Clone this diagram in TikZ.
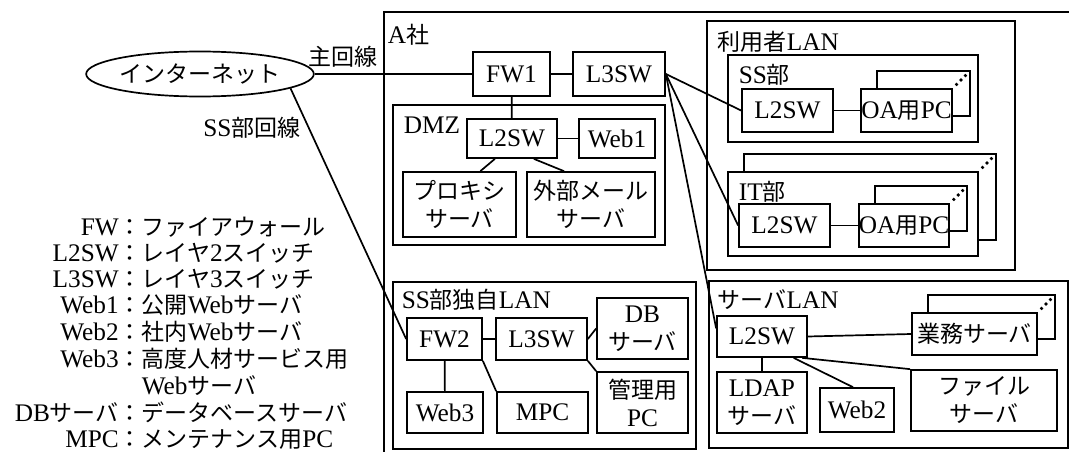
\documentclass[tikz,border=0pt]{standalone}
\usepackage{fontspec}
\setmainfont{Liberation Serif}[Scale=1.1]
\newfontfamily\jpfont{Noto Sans CJK JP}
\newcommand{\jp}[1]{{\jpfont #1}}
\usetikzlibrary{shapes.geometric,calc}
% stacked copy drawn behind a node, with dots
\newcommand{\backcopy}[1]{%
  \draw ([xshift=17pt]#1.north west) -- ([shift={(17pt,17pt)}]#1.north west)
    -- ([shift={(17pt,17pt)}]#1.north east) -- ([shift={(17pt,17pt)}]#1.south east)
    -- ([yshift=17pt]#1.south east);
  \foreach \f in {0.22,0.48,0.74}
    \fill ($(#1.north east)!\f!([shift={(17pt,17pt)}]#1.north east)$) circle (1.8pt);
}

\begin{document}
\begin{tikzpicture}[x=1pt, y=-1pt, line width=1.7pt,
    every node/.style={font=\fontsize{23}{28}\selectfont, inner sep=0pt},
    sz/.style 2 args={minimum width=#1, minimum height=#2}]
  \tikzstyle{dev_node}=[draw, rectangle, align=center]
  \tikzstyle{lan_frame}=[draw, rectangle]
  \tikzstyle{lan_label}=[anchor=west]
  \useasboundingbox (0,0) rectangle (1069,452);

  % frames
  \node [lan_frame, anchor=north west, sz={720}{470}] (asha) at (383,11) {};
  \node [lan_frame, sz={272}{140}] (dmz) at (529,175) {};
  \node [lan_frame, sz={303}{167}] (sslan) at (544.5,365.5) {};
  \node [lan_frame, sz={308}{249}] (userlan) at (861,145.5) {};
  \node [lan_frame, sz={250}{87}] (ssdept) at (853,98.5) {};
  \node [lan_frame, sz={250}{84}] (itdept) at (853,214) {};
  \node [lan_frame, sz={359}{167}] (srvlan) at (888.5,364.5) {};
  \backcopy{itdept}

  \node [lan_label] (asha_l) at (387,35) {A\jp{社}};
  \node [lan_label] (dmz_l) at (403,125) {DMZ};
  \node [lan_label] (sslan_l) at (401,300) {SS\jp{部独自}LAN};
  \node [lan_label] (userlan_l) at (717,42) {\jp{利用者}LAN};
  \node [lan_label] (ssdept_l) at (738,75) {SS\jp{部}};
  \node [lan_label] (itdept_l) at (738,192) {IT\jp{部}};
  \node [lan_label] (srvlan_l) at (717,300) {\jp{サーバ}LAN};

  % internet
  \node [draw, ellipse, sz={218}{45}] (inet) at (200,74) {\jp{インターネット}};
  \node (main_l) at (343,57) {\jp{主回線}};
  \node (ssline_l) at (252,128) {SS\jp{部回線}};

  % A-sha core and DMZ
  \node [dev_node, sz={77}{44}] (fw1) at (511.5,74) {FW1};
  \node [dev_node, sz={92}{44}] (l3sw1) at (619,74) {L3SW};
  \node [dev_node, sz={90}{39}] (l2sw1) at (512,138.5) {L2SW};
  \node [dev_node, sz={76}{39}] (web1) at (617,138.5) {Web1};
  \node [dev_node, sz={113}{65}] (proxy) at (459.5,204.5) {\jp{プロキシ}\\\jp{サーバ}};
  \node [dev_node, sz={128}{65}] (mail) at (591,204.5) {\jp{外部メール}\\\jp{サーバ}};

  % SS-bu own LAN
  \node [dev_node, sz={75}{42}] (fw2) at (444.5,339) {FW2};
  \node [dev_node, sz={91}{42}] (l3sw2) at (541.5,339) {L3SW};
  \node [dev_node, sz={91}{61}] (db) at (642.5,328.5) {DB\\\jp{サーバ}};
  \node [dev_node, sz={91}{61}] (mgmtpc) at (642.5,402.5) {\jp{管理用}\\PC};
  \node [dev_node, sz={76}{41}] (web3) at (445,412.5) {Web3};
  \node [dev_node, sz={91}{41}] (mpc) at (542.5,412.5) {MPC};

  % user LAN
  \node [dev_node, sz={91}{43}] (l2sw_ss) at (787.5,110.5) {L2SW};
  \node [dev_node, sz={91}{43}] (oapc_ss) at (906.5,110.5) {OA\jp{用}PC};
  \backcopy{oapc_ss}
  \node [dev_node, sz={91}{43}] (l2sw_it) at (784.5,225.5) {L2SW};
  \node [dev_node, sz={90}{43}] (oapc_it) at (904,225.5) {OA\jp{用}PC};
  \backcopy{oapc_it}

  % server LAN
  \node [dev_node, sz={90}{41}] (l2sw_sv) at (762,336.5) {L2SW};
  \node [dev_node, sz={125}{42}] (bizsrv) at (974.5,334) {\jp{業務サーバ}};
  \backcopy{bizsrv}
  \node [dev_node, sz={90}{61}] (ldap) at (762,402.5) {LDAP\\\jp{サーバ}};
  \node [dev_node, sz={74}{44}] (web2) at (857,410) {Web2};
  \node [dev_node, sz={146}{61}] (filesrv) at (984,400.5) {\jp{ファイル}\\\jp{サーバ}};

  % links
  \draw (inet) -- (fw1);
  \draw (inet.-9) -- (fw2.west);
  \draw (fw1) -- (l3sw1);
  \draw (fw1) -- (l2sw1);
  \draw (l2sw1) -- (web1);
  \draw (l2sw1.-130) -- (proxy.58);
  \draw (l2sw1.-43) -- (mail.129);
  \draw (l3sw1.east) -- (l2sw_ss.west);
  \draw (l3sw1.east) -- (l2sw_it.west);
  \draw (l3sw1.east) -- (l2sw_sv.170);
  \draw (l2sw_ss) -- (oapc_ss);
  \draw (l2sw_it) -- (oapc_it);
  \draw (fw2) -- (l3sw2);
  \draw (l3sw2.east) -- (db.west);
  \draw (l3sw2.south east) -- (mgmtpc.north west);
  \draw (fw2) -- (web3);
  \draw (fw2.south east) -- (mpc.north west);
  \draw (l2sw_sv.east) -- (bizsrv.west);
  \draw (l2sw_sv) -- (ldap);
  \draw (l2sw_sv.-34) -- (web2.100);
  \draw (l2sw_sv.-28) -- (filesrv.north west);

  % legend
  \node [anchor=north west, font=\fontsize{23}{25.6}\selectfont] (legend) at (14,216) {%
    \begin{tabular}{@{}r@{}c@{}l@{}}
      FW & \jp{：} & \jp{ファイアウォール}\\
      L2SW & \jp{：} & \jp{レイヤ}2\jp{スイッチ}\\
      L3SW & \jp{：} & \jp{レイヤ}3\jp{スイッチ}\\
      Web1 & \jp{：} & \jp{公開}Web\jp{サーバ}\\
      Web2 & \jp{：} & \jp{社内}Web\jp{サーバ}\\
      Web3 & \jp{：} & \jp{高度人材サービス用}\\
           &         & Web\jp{サーバ}\\
      DB\jp{サーバ} & \jp{：} & \jp{データベースサーバ}\\
      MPC & \jp{：} & \jp{メンテナンス用}PC
    \end{tabular}};
\end{tikzpicture}
\end{document}
